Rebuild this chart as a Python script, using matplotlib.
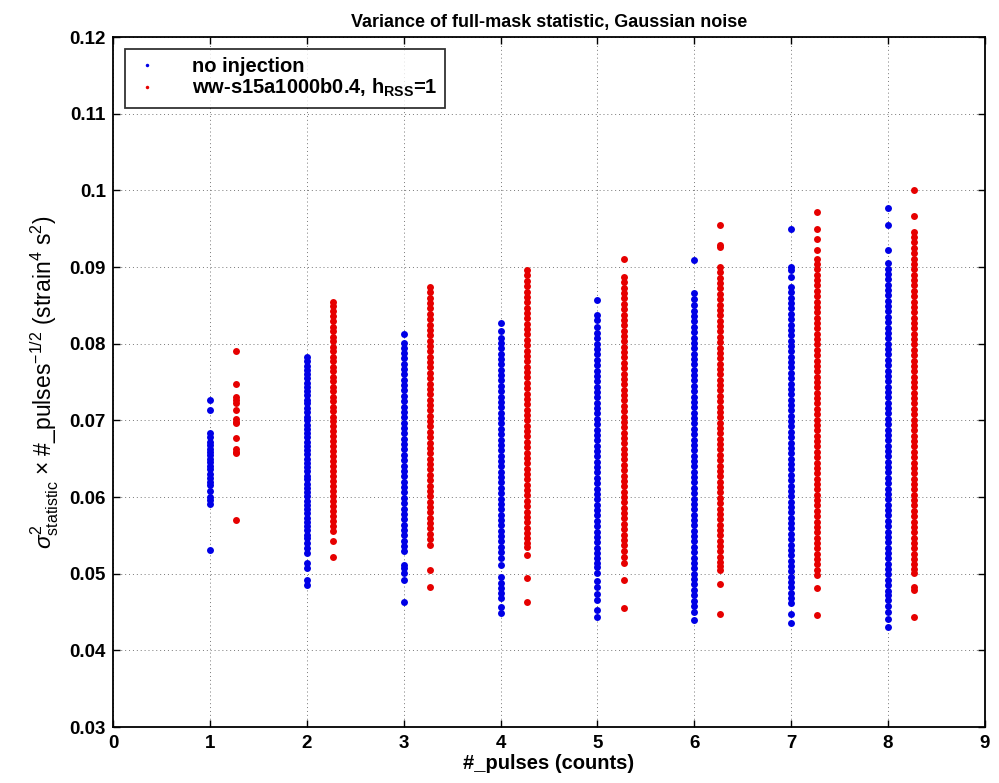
import matplotlib
matplotlib.use("Agg")
import matplotlib.pyplot as plt

# ---------------- data ----------------
pulse_counts = [1, 2, 3, 4, 5, 6, 7, 8]
red_offset = 0.27

blue_1 = [0.0727, 0.0713, 0.0683, 0.0678, 0.0672, 0.0668, 0.0663, 0.0659, 0.0655, 0.0650,
          0.0646, 0.0641, 0.0636, 0.0630, 0.0625, 0.0620, 0.0616, 0.0608, 0.0600, 0.0596,
          0.0591, 0.0531]
red_1 = [0.0790, 0.0748, 0.0731, 0.0726, 0.0722, 0.0713, 0.0702, 0.0698, 0.0696, 0.0677,
         0.0663, 0.0659, 0.0657, 0.0570]

blue_2 = [0.0783, 0.0777, 0.0771, 0.0766, 0.0760, 0.0755, 0.0749, 0.0744, 0.0738, 0.0733,
          0.0727, 0.0722, 0.0716, 0.0711, 0.0705, 0.0700, 0.0694, 0.0689, 0.0683, 0.0678,
          0.0672, 0.0667, 0.0661, 0.0656, 0.0650, 0.0645, 0.0639, 0.0634, 0.0628, 0.0623,
          0.0617, 0.0612, 0.0606, 0.0601, 0.0595, 0.0590, 0.0584, 0.0579, 0.0573, 0.0568,
          0.0562, 0.0557, 0.0551, 0.0546, 0.0540, 0.0534, 0.0527, 0.0514, 0.0507, 0.0492,
          0.0485]
red_2 = [0.0855, 0.0849, 0.0842, 0.0836, 0.0829, 0.0822, 0.0816, 0.0809, 0.0803, 0.0796,
         0.0790, 0.0783, 0.0777, 0.0770, 0.0764, 0.0757, 0.0751, 0.0744, 0.0738, 0.0731,
         0.0725, 0.0718, 0.0712, 0.0705, 0.0699, 0.0692, 0.0686, 0.0679, 0.0673, 0.0666,
         0.0660, 0.0653, 0.0647, 0.0640, 0.0634, 0.0627, 0.0621, 0.0614, 0.0608, 0.0601,
         0.0595, 0.0588, 0.0582, 0.0575, 0.0569, 0.0562, 0.0556, 0.0542, 0.0522]

blue_3 = [0.0813, 0.0801, 0.0795, 0.0788, 0.0781, 0.0774, 0.0767, 0.0760, 0.0753, 0.0746,
          0.0739, 0.0732, 0.0725, 0.0718, 0.0711, 0.0704, 0.0697, 0.0690, 0.0683, 0.0676,
          0.0669, 0.0662, 0.0655, 0.0648, 0.0641, 0.0634, 0.0627, 0.0620, 0.0613, 0.0606,
          0.0599, 0.0592, 0.0585, 0.0578, 0.0571, 0.0564, 0.0557, 0.0550, 0.0543, 0.0536,
          0.0529, 0.0511, 0.0507, 0.0501, 0.0492, 0.0463]
red_3 = [0.0874, 0.0867, 0.0860, 0.0853, 0.0846, 0.0839, 0.0832, 0.0825, 0.0818, 0.0811,
         0.0804, 0.0797, 0.0790, 0.0783, 0.0776, 0.0769, 0.0762, 0.0755, 0.0748, 0.0741,
         0.0734, 0.0727, 0.0720, 0.0713, 0.0706, 0.0699, 0.0692, 0.0685, 0.0678, 0.0671,
         0.0664, 0.0657, 0.0650, 0.0643, 0.0636, 0.0629, 0.0622, 0.0615, 0.0608, 0.0601,
         0.0594, 0.0587, 0.0580, 0.0573, 0.0566, 0.0559, 0.0552, 0.0545, 0.0537, 0.0505,
         0.0483]

blue_4 = [0.0827, 0.0816, 0.0808, 0.0801, 0.0794, 0.0787, 0.0780, 0.0773, 0.0766, 0.0759,
          0.0752, 0.0745, 0.0738, 0.0731, 0.0724, 0.0717, 0.0710, 0.0703, 0.0696, 0.0689,
          0.0682, 0.0675, 0.0668, 0.0661, 0.0654, 0.0647, 0.0640, 0.0633, 0.0626, 0.0619,
          0.0612, 0.0605, 0.0598, 0.0591, 0.0584, 0.0577, 0.0570, 0.0563, 0.0556, 0.0549,
          0.0542, 0.0535, 0.0528, 0.0520, 0.0511, 0.0496, 0.0488, 0.0481, 0.0475, 0.0468,
          0.0457, 0.0449]
red_4 = [0.0896, 0.0889, 0.0882, 0.0875, 0.0868, 0.0861, 0.0854, 0.0847, 0.0840, 0.0833,
         0.0826, 0.0819, 0.0812, 0.0805, 0.0798, 0.0791, 0.0784, 0.0777, 0.0770, 0.0763,
         0.0756, 0.0749, 0.0742, 0.0735, 0.0728, 0.0721, 0.0714, 0.0707, 0.0700, 0.0693,
         0.0686, 0.0679, 0.0672, 0.0665, 0.0658, 0.0651, 0.0644, 0.0637, 0.0630, 0.0623,
         0.0616, 0.0609, 0.0602, 0.0595, 0.0588, 0.0581, 0.0574, 0.0567, 0.0560, 0.0553,
         0.0546, 0.0540, 0.0535, 0.0524, 0.0494, 0.0463]

blue_5 = [0.0857, 0.0837, 0.0831, 0.0822, 0.0814, 0.0807, 0.0800, 0.0793, 0.0786, 0.0779,
          0.0772, 0.0765, 0.0758, 0.0751, 0.0744, 0.0737, 0.0730, 0.0723, 0.0716, 0.0709,
          0.0702, 0.0695, 0.0688, 0.0681, 0.0674, 0.0667, 0.0660, 0.0653, 0.0646, 0.0639,
          0.0632, 0.0625, 0.0618, 0.0611, 0.0604, 0.0597, 0.0590, 0.0583, 0.0576, 0.0569,
          0.0562, 0.0555, 0.0548, 0.0541, 0.0534, 0.0527, 0.0520, 0.0514, 0.0509, 0.0501,
          0.0490, 0.0482, 0.0474, 0.0466, 0.0453, 0.0444]
red_5 = [0.0911, 0.0887, 0.0880, 0.0873, 0.0866, 0.0859, 0.0852, 0.0845, 0.0838, 0.0831,
         0.0824, 0.0817, 0.0810, 0.0803, 0.0796, 0.0789, 0.0782, 0.0775, 0.0768, 0.0761,
         0.0754, 0.0747, 0.0740, 0.0733, 0.0726, 0.0719, 0.0712, 0.0705, 0.0698, 0.0691,
         0.0684, 0.0677, 0.0670, 0.0663, 0.0656, 0.0649, 0.0642, 0.0635, 0.0628, 0.0621,
         0.0614, 0.0607, 0.0600, 0.0593, 0.0586, 0.0579, 0.0572, 0.0565, 0.0558, 0.0551,
         0.0544, 0.0537, 0.0530, 0.0522, 0.0514, 0.0492, 0.0455]

blue_6 = [0.0909, 0.0866, 0.0858, 0.0850, 0.0843, 0.0836, 0.0829, 0.0822, 0.0815, 0.0808,
          0.0801, 0.0794, 0.0787, 0.0780, 0.0773, 0.0766, 0.0759, 0.0752, 0.0745, 0.0738,
          0.0731, 0.0724, 0.0717, 0.0710, 0.0703, 0.0696, 0.0689, 0.0682, 0.0675, 0.0668,
          0.0661, 0.0654, 0.0647, 0.0640, 0.0633, 0.0626, 0.0619, 0.0612, 0.0605, 0.0598,
          0.0591, 0.0584, 0.0577, 0.0570, 0.0563, 0.0556, 0.0549, 0.0542, 0.0535, 0.0528,
          0.0521, 0.0514, 0.0507, 0.0500, 0.0493, 0.0486, 0.0479, 0.0472, 0.0465, 0.0458,
          0.0450, 0.0440]
red_6 = [0.0955, 0.0929, 0.0926, 0.0900, 0.0893, 0.0886, 0.0879, 0.0872, 0.0865, 0.0858,
         0.0851, 0.0844, 0.0837, 0.0830, 0.0823, 0.0816, 0.0809, 0.0802, 0.0795, 0.0788,
         0.0781, 0.0774, 0.0767, 0.0760, 0.0753, 0.0746, 0.0739, 0.0732, 0.0725, 0.0718,
         0.0711, 0.0704, 0.0697, 0.0690, 0.0683, 0.0676, 0.0669, 0.0662, 0.0655, 0.0648,
         0.0641, 0.0634, 0.0627, 0.0620, 0.0613, 0.0606, 0.0599, 0.0592, 0.0585, 0.0578,
         0.0571, 0.0564, 0.0557, 0.0550, 0.0543, 0.0536, 0.0529, 0.0522, 0.0515, 0.0510,
         0.0505, 0.0487, 0.0448]

blue_7 = [0.0950, 0.0900, 0.0896, 0.0887, 0.0874, 0.0867, 0.0860, 0.0853, 0.0846, 0.0839,
          0.0832, 0.0825, 0.0818, 0.0811, 0.0804, 0.0797, 0.0790, 0.0783, 0.0776, 0.0769,
          0.0762, 0.0755, 0.0748, 0.0741, 0.0734, 0.0727, 0.0720, 0.0713, 0.0706, 0.0699,
          0.0692, 0.0685, 0.0678, 0.0671, 0.0664, 0.0657, 0.0650, 0.0643, 0.0636, 0.0629,
          0.0622, 0.0615, 0.0608, 0.0601, 0.0594, 0.0587, 0.0580, 0.0573, 0.0566, 0.0559,
          0.0552, 0.0545, 0.0538, 0.0531, 0.0524, 0.0517, 0.0510, 0.0503, 0.0496, 0.0489,
          0.0482, 0.0475, 0.0468, 0.0462, 0.0448, 0.0436]
red_7 = [0.0972, 0.0950, 0.0937, 0.0922, 0.0911, 0.0904, 0.0897, 0.0890, 0.0883, 0.0876,
         0.0869, 0.0862, 0.0855, 0.0848, 0.0841, 0.0834, 0.0827, 0.0820, 0.0813, 0.0806,
         0.0799, 0.0792, 0.0785, 0.0778, 0.0771, 0.0764, 0.0757, 0.0750, 0.0743, 0.0736,
         0.0729, 0.0722, 0.0715, 0.0708, 0.0701, 0.0694, 0.0687, 0.0680, 0.0673, 0.0666,
         0.0659, 0.0652, 0.0645, 0.0638, 0.0631, 0.0624, 0.0617, 0.0610, 0.0603, 0.0596,
         0.0589, 0.0582, 0.0575, 0.0568, 0.0561, 0.0554, 0.0547, 0.0540, 0.0533, 0.0526,
         0.0519, 0.0512, 0.0505, 0.0498, 0.0481, 0.0446]

blue_8 = [0.0977, 0.0955, 0.0922, 0.0905, 0.0898, 0.0891, 0.0884, 0.0877, 0.0870, 0.0863,
          0.0856, 0.0849, 0.0842, 0.0835, 0.0828, 0.0821, 0.0814, 0.0807, 0.0800, 0.0793,
          0.0786, 0.0779, 0.0772, 0.0765, 0.0758, 0.0751, 0.0744, 0.0737, 0.0730, 0.0723,
          0.0716, 0.0709, 0.0702, 0.0695, 0.0688, 0.0681, 0.0674, 0.0667, 0.0660, 0.0653,
          0.0646, 0.0639, 0.0632, 0.0625, 0.0618, 0.0611, 0.0604, 0.0597, 0.0590, 0.0583,
          0.0576, 0.0569, 0.0562, 0.0555, 0.0548, 0.0541, 0.0534, 0.0527, 0.0520, 0.0513,
          0.0506, 0.0499, 0.0492, 0.0485, 0.0478, 0.0472, 0.0466, 0.0458, 0.0450, 0.0441,
          0.0431]
red_8 = [0.1000, 0.0966, 0.0946, 0.0939, 0.0932, 0.0925, 0.0918, 0.0911, 0.0904, 0.0897,
         0.0890, 0.0883, 0.0876, 0.0869, 0.0862, 0.0855, 0.0848, 0.0841, 0.0834, 0.0827,
         0.0820, 0.0813, 0.0806, 0.0799, 0.0792, 0.0785, 0.0778, 0.0771, 0.0764, 0.0757,
         0.0750, 0.0743, 0.0736, 0.0729, 0.0722, 0.0715, 0.0708, 0.0701, 0.0694, 0.0687,
         0.0680, 0.0673, 0.0666, 0.0659, 0.0652, 0.0645, 0.0638, 0.0631, 0.0624, 0.0617,
         0.0610, 0.0603, 0.0596, 0.0589, 0.0582, 0.0575, 0.0568, 0.0561, 0.0554, 0.0547,
         0.0540, 0.0533, 0.0526, 0.0519, 0.0512, 0.0506, 0.0501, 0.0483, 0.0479, 0.0444]

blue_columns = [blue_1, blue_2, blue_3, blue_4, blue_5, blue_6, blue_7, blue_8]
red_columns = [red_1, red_2, red_3, red_4, red_5, red_6, red_7, red_8]

x_ticks = [0, 1, 2, 3, 4, 5, 6, 7, 8, 9]
y_ticks = [0.03, 0.04, 0.05, 0.06, 0.07, 0.08, 0.09, 0.1, 0.11, 0.12]
y_tick_labels = ["0.03", "0.04", "0.05", "0.06", "0.07", "0.08", "0.09", "0.1", "0.11", "0.12"]

series_labels = ["no injection", r"ww-s15a1000b0.4, h$_{\mathbf{RSS}}$=1"]
title_text = "Variance of full-mask statistic, Gaussian noise"
x_label = "#_pulses (counts)"
y_label = r"$\sigma^2_{\rm statistic}$ $\times$ #_pulses$^{-1/2}$ (strain$^4$ s$^2$)"

# ---------------- drawing ----------------
plt.rcParams['font.family'] = ['Liberation Sans', 'DejaVu Sans']
plt.rcParams['mathtext.fontset'] = 'custom'
plt.rcParams['mathtext.rm'] = 'Liberation Sans'
plt.rcParams['mathtext.bf'] = 'Liberation Sans:bold'
plt.rcParams['mathtext.it'] = 'Liberation Sans:italic'

fig = plt.figure(figsize=(9.99, 7.83), dpi=100)
ax = fig.add_axes([0.1131, 0.0715, 0.8729, 0.8812])

blue_c = "#0000e6"
red_c = "#e60000"
ms = 5.0

for i, (xc, col) in enumerate(zip(pulse_counts, blue_columns)):
    ax.plot([xc] * len(col), col, linestyle="none", marker="o", markersize=ms,
            color=blue_c, markeredgewidth=0, label=series_labels[0] if i == 0 else None)
for i, (xc, col) in enumerate(zip(pulse_counts, red_columns)):
    ax.plot([xc + red_offset] * len(col), col, linestyle="none", marker="o", markersize=ms,
            color=red_c, markeredgewidth=0, label=series_labels[1] if i == 0 else None)

ax.set_xlim(0, 9)
ax.set_ylim(0.03, 0.12)
ax.set_xticks(x_ticks)
ax.set_xticklabels([str(t) for t in x_ticks])
ax.set_yticks(y_ticks)
ax.set_yticklabels(y_tick_labels)
ax.tick_params(direction="in", top=True, right=True, length=5, width=1, labelsize=13.5,
               colors="black")
ax.tick_params(axis="x", pad=6)
ax.tick_params(axis="y", pad=5)
for lab in ax.get_xticklabels() + ax.get_yticklabels():
    lab.set_fontweight("bold")
ax.grid(True, linestyle=(0, (1, 3)), color="#777777", linewidth=0.7)
for s in ax.spines.values():
    s.set_linewidth(1.3)

ax.set_title(title_text, fontsize=13, fontweight="bold", pad=7)
ax.set_xlabel(x_label, fontsize=14.5, fontweight="bold", labelpad=1)
ax.set_ylabel(y_label, fontsize=16.5, labelpad=6)

leg = ax.legend(loc="upper left", prop={"size": 14.5, "weight": "bold"}, frameon=True,
                fancybox=False, edgecolor="black", borderpad=0.4, handlelength=1.4,
                handletextpad=1.5, labelspacing=0.05, markerscale=0.5, borderaxespad=0.6)
leg.get_frame().set_linewidth(1.3)

fig.savefig("out.png", dpi=100)
